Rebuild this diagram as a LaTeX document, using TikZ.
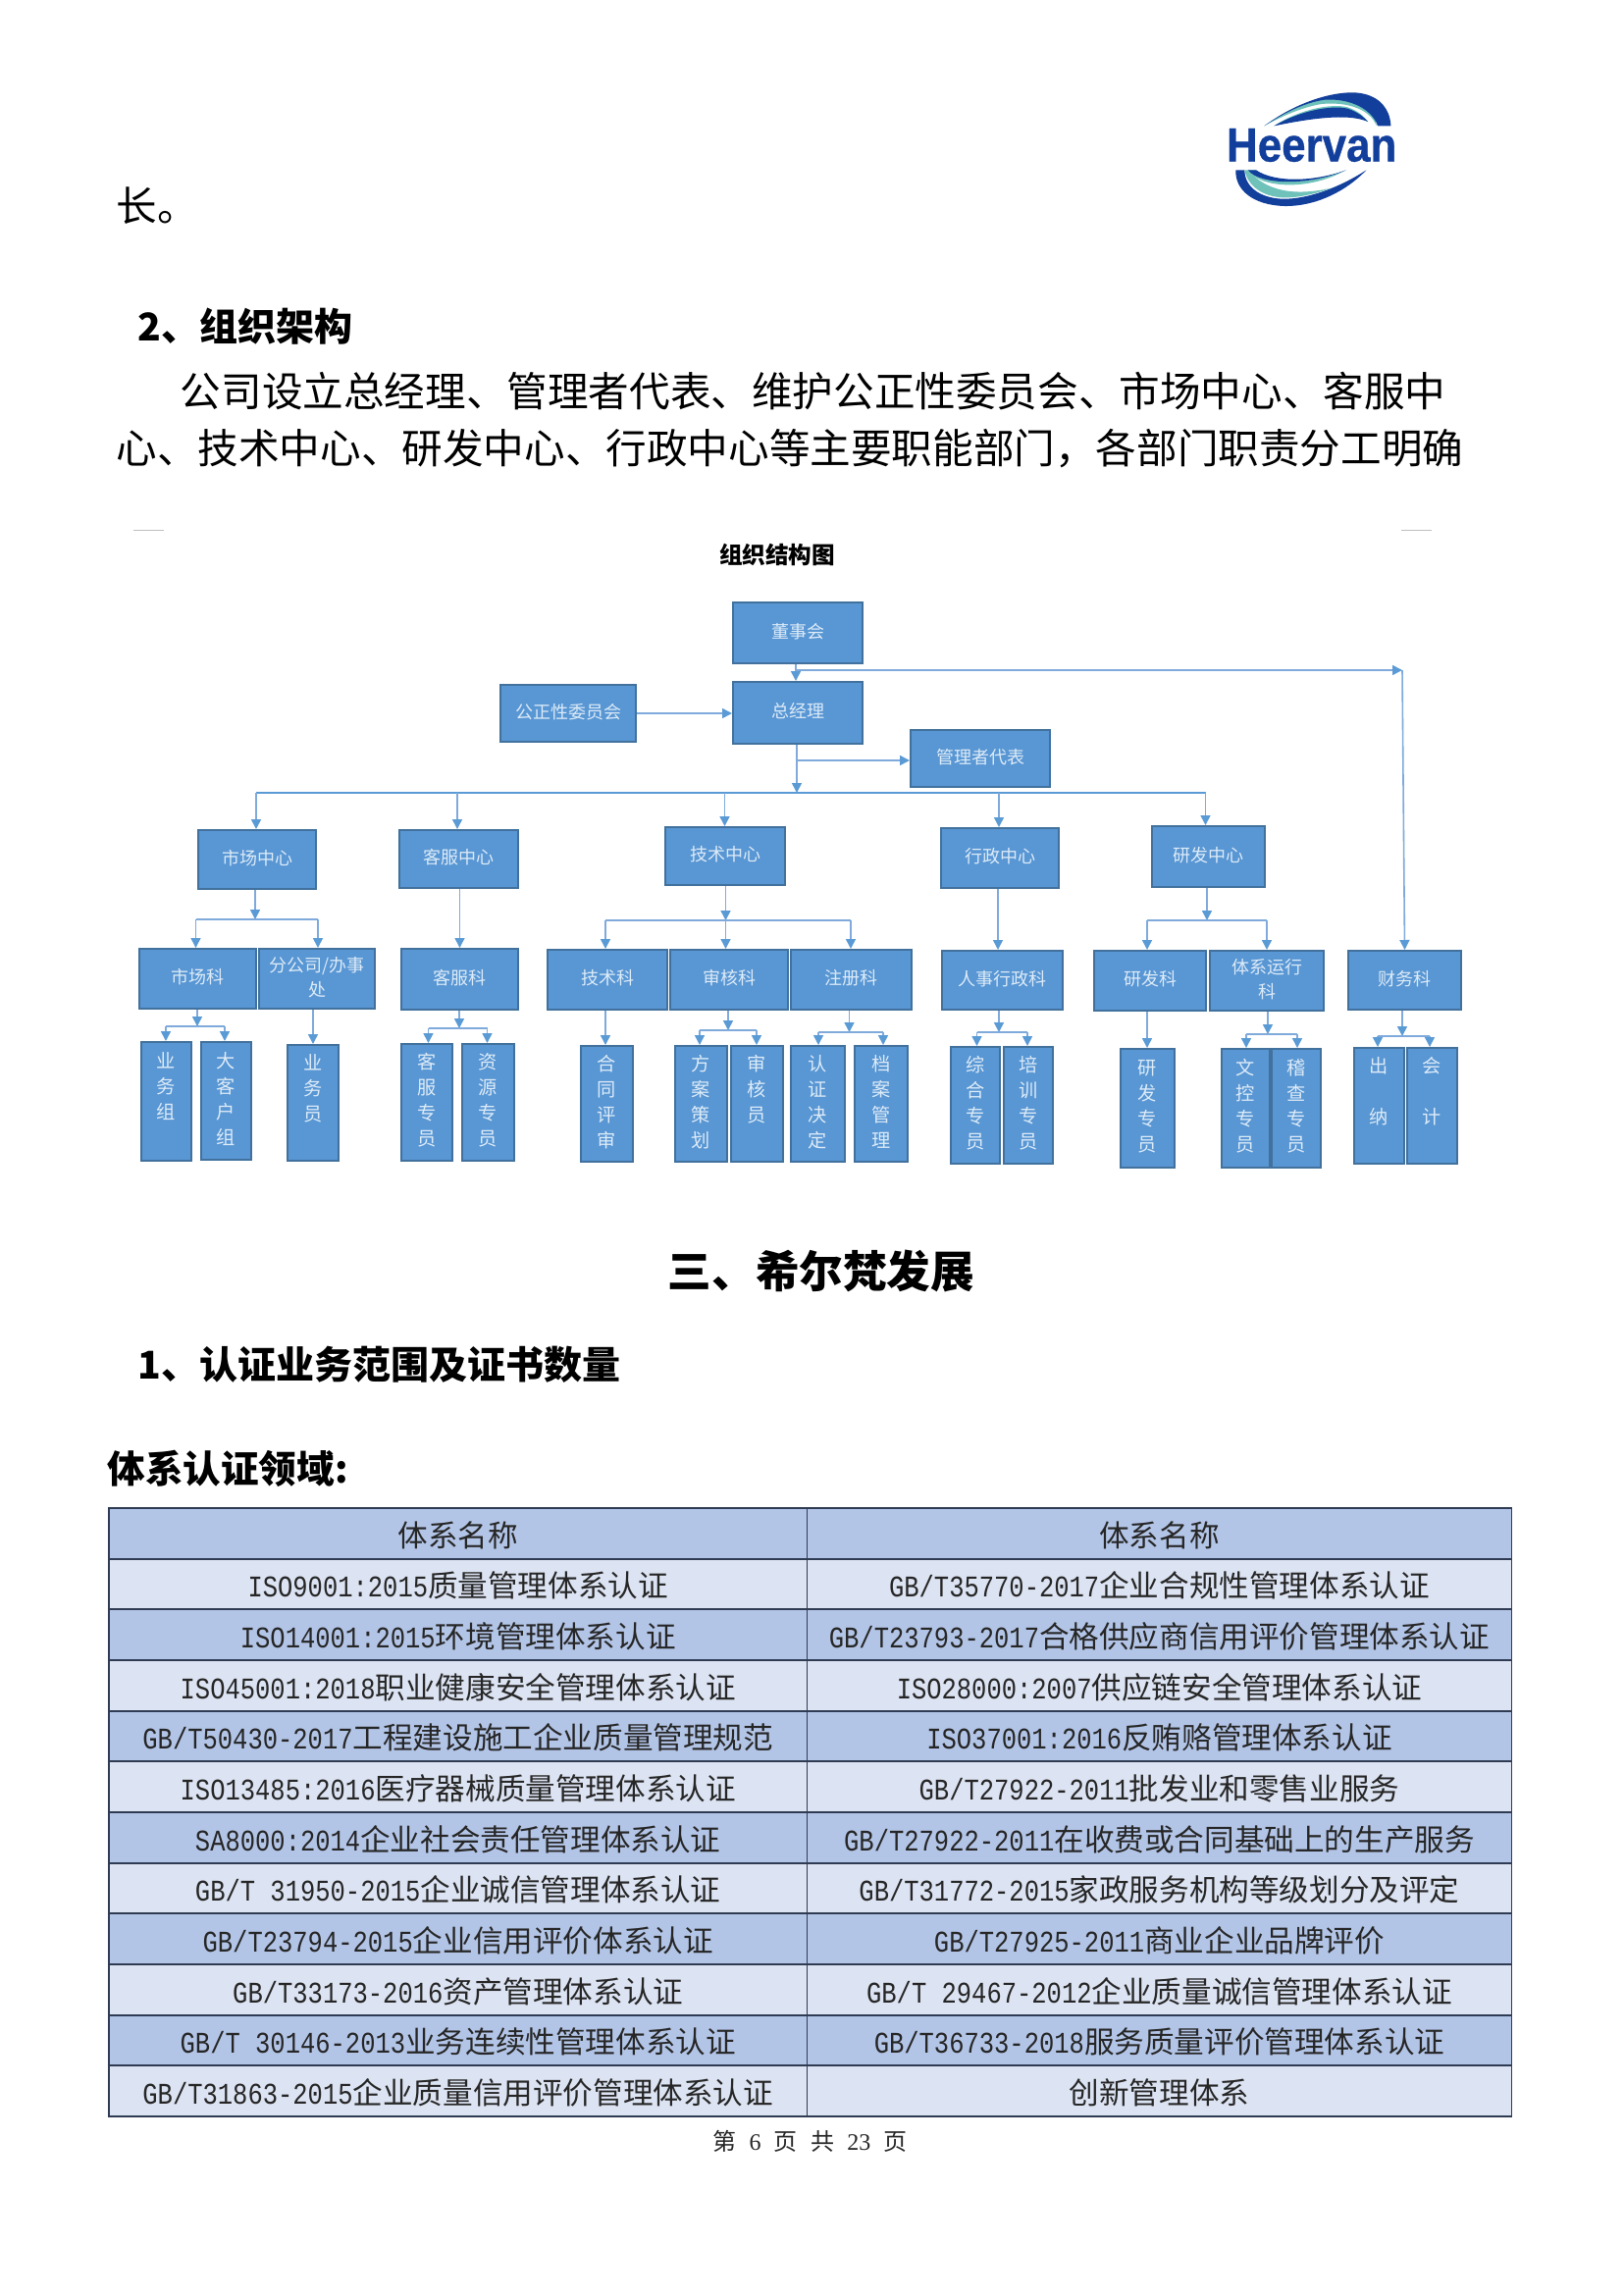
\documentclass[tikz,border=0pt]{standalone}
\usepackage{fontspec}
\usetikzlibrary{arrows.meta}
\setmainfont{Noto Sans CJK SC}
\newfontfamily\hwfont[FakeStretch=0.8333]{Liberation Mono}
\newfontfamily\logofont[FakeStretch=0.9,FakeBold=0.6]{Liberation Sans}
\newfontfamily\footfont{Liberation Serif}
\newcommand\hw[1]{{\hwfont #1}}
\definecolor{boxfill}{HTML}{5896D4}
\definecolor{boxline}{HTML}{41719C}
\definecolor{boxtext}{HTML}{DDEBF7}
\definecolor{linec}{HTML}{7FAADB}
\definecolor{tipc}{HTML}{5B9BD5}
\definecolor{rowdark}{HTML}{B3C5E7}
\definecolor{rowlight}{HTML}{DCE3F2}
\definecolor{rowline}{HTML}{2F3B52}
\definecolor{logoblue}{HTML}{123F9C}
\definecolor{logoteal}{HTML}{6FC2BA}
\tikzset{
  orgbox/.style={draw=boxline,fill=boxfill,line width=1pt,text=boxtext,inner sep=0pt,align=center,
    font=\fontsize{9}{12.5}\selectfont},
  leafbox/.style={orgbox,font=\fontsize{9.6}{13}\selectfont},
  conn/.style={draw=linec,line width=.8pt,-{Triangle[length=5pt,width=5pt,color=tipc]}},
  plainline/.style={draw=linec,line width=.8pt},
  busline/.style={draw=tipc,line width=.7pt},
  cell/.style={draw=rowline,line width=.9pt,inner sep=0pt,text=black!85,font=\fontsize{15.3}{18}\selectfont},
  para/.style={anchor=west,inner sep=0pt,font=\fontsize{20.8}{24}\selectfont},
  headb/.style={inner sep=0pt,font=\fontsize{19.5}{24}\selectfont\bfseries},
}
\newcommand\bx[7]{\node[#7,minimum width={(#4-#2)*0.5pt},minimum height={(#5-#3)*0.5pt}] (#1) at ({(#2+#4)/2},{(#3+#5)/2}) {\raisebox{.5pt}{\begin{tabular}{@{}c@{}}#6\end{tabular}}};}
\newcommand\forkto[8]{%
  \coordinate (#1m) at (#3,#4); \coordinate (#1l) at (#5,#4); \coordinate (#1r) at (#6,#4);
  \draw[conn] (#1m |- #2.south) -- (#1m);
  \draw[plainline] (#1l) -- (#1r);
  \draw[conn] (#1l) -- (#1l |- #7.north);
  \draw[conn] (#1r) -- (#1r |- #8.north);}
\newcommand\trow[3]{%
  \pgfmathsetmacro\ty{1537+51.67*#1+25.83}%
  \ifodd#1\def\rc{rowlight}\else\def\rc{rowdark}\fi
  \node[cell,fill=\rc,minimum width=355.75pt,minimum height=25.83pt] (l#1) at (466.75,\ty) {\smash{\raisebox{-6.6pt}{#2}}};
  \node[cell,fill=\rc,minimum width=359pt,minimum height=25.83pt] (r#1) at (1181.5,\ty) {\smash{\raisebox{-6.6pt}{#3}}};}
\begin{document}
\begin{tikzpicture}[x=0.5pt,y=-0.5pt]
\useasboundingbox[fill=white] (0,0) rectangle (1654,2339);
% logo
\begin{scope}[shift={(1200,70)},x=0.1667pt,y=-0.1667pt]
\fill[logoteal] (265,175) .. controls (380,95) and (500,70) .. (570,85) .. controls (600,110) and (605,140) .. (608,175) .. controls (590,125) and (520,100) .. (440,108) .. controls (380,118) and (320,145) .. (265,175) -- cycle;
\fill[logoblue] (265,175) .. controls (380,90) and (500,65) .. (560,75) .. controls (620,85) and (650,125) .. (652,175) -- (612,175) .. controls (595,125) and (530,90) .. (450,95) .. controls (380,105) and (320,140) .. (265,175) -- cycle;
\fill[logoteal] (295,175) .. controls (370,125) and (470,105) .. (520,118) .. controls (550,128) and (570,145) .. (582,162) .. controls (530,135) and (440,135) .. (295,175) -- cycle;
\fill[logoblue] (295,175) .. controls (370,130) and (470,110) .. (520,122) .. controls (550,132) and (570,148) .. (582,162) .. controls (530,140) and (440,145) .. (295,175) -- cycle;
\fill[logoblue] (178,310) .. controls (175,370) and (230,418) .. (330,420) .. controls (430,420) and (520,370) .. (577,310) .. controls (500,360) and (400,400) .. (320,398) .. controls (250,395) and (205,360) .. (205,310) -- cycle;
\fill[logoteal] (205,310) .. controls (215,360) and (260,390) .. (320,394) .. controls (370,396) and (430,380) .. (470,365) .. controls (400,380) and (290,395) .. (215,310) -- cycle;
\fill[logoteal] (215,310) .. controls (250,365) and (400,375) .. (515,310) .. controls (420,350) and (300,360) .. (240,310) -- cycle;
\fill[logoblue] (215,310) .. controls (250,355) and (400,360) .. (515,310) .. controls (420,345) and (300,350) .. (240,310) -- cycle;
\node[inner sep=0pt,text=logoblue,font=\logofont\fontsize{24.4}{26}\selectfont\bfseries] (logo) at (410,234) {Heervan};
\end{scope}
% page text
\node[para] (t1) at (118,210) {长。};
\node[headb,anchor=west] (h2) at (140,333) {2、组织架构};
\node[para] (p1) at (183.5,399) {公司设立总经理、管理者代表、维护公正性委员会、市场中心、客服中};
\node[para] (p2) at (118,457) {心、技术中心、研发中心、行政中心等主要职能部门，各部门职责分工明确};
\coordinate (ga) at (136,540); \coordinate (gb) at (167,540);
\coordinate (gc) at (1428,540); \coordinate (gd) at (1459,540);
\draw[black!25,line width=.5pt] (ga) -- (gb) (gc) -- (gd);
\node[inner sep=0pt,font=\fontsize{11.8}{14}\selectfont\bfseries] (ct) at (792,565) {组织结构图};
\begin{scope}[shift={(1,0)}]
% top boxes
\bx{dsh}{746}{614}{878}{676}{董事会}{orgbox}
\bx{zjl}{746}{695}{878}{758}{总经理}{orgbox}
\bx{gzx}{509}{698}{647}{756}{公正性委员会}{orgbox}
\bx{glz}{927}{744}{1069}{802}{管理者代表}{orgbox}
% centres
\bx{csc}{201}{846}{321}{906}{市场中心}{orgbox}
\bx{ckf}{406}{846}{527}{905}{客服中心}{orgbox}
\bx{cjs}{677}{843}{799}{902}{技术中心}{orgbox}
\bx{cxz}{958}{844}{1078}{905}{行政中心}{orgbox}
\bx{cyf}{1173}{842}{1288}{904}{研发中心}{orgbox}
% sections
\bx{ksc}{141}{967}{260}{1028}{市场科}{orgbox}
\bx{kfg}{263}{967}{381}{1028}{分公司/办事\\处}{orgbox}
\bx{kkf}{408}{967}{527}{1029}{客服科}{orgbox}
\bx{kjs}{557}{968}{679}{1029}{技术科}{orgbox}
\bx{ksh}{682}{968}{802}{1029}{审核科}{orgbox}
\bx{kzc}{805}{968}{928}{1029}{注册科}{orgbox}
\bx{krs}{959}{969}{1082}{1029}{人事行政科}{orgbox}
\bx{kyf}{1114}{969}{1228}{1030}{研发科}{orgbox}
\bx{ktx}{1232}{969}{1348}{1030}{体系运行\\科}{orgbox}
\bx{kcw}{1373}{969}{1488}{1029}{财务科}{orgbox}
% leaves
\bx{a1}{143}{1062}{194}{1183}{业\\务\\组\\\mbox{}}{leafbox}
\bx{a2}{204}{1062}{255}{1182}{大\\客\\户\\组}{leafbox}
\bx{a3}{292}{1065}{344}{1183}{业\\务\\员\\\mbox{}}{leafbox}
\bx{a4}{408}{1064}{460}{1183}{客\\服\\专\\员}{leafbox}
\bx{a5}{470}{1064}{523}{1183}{资\\源\\专\\员}{leafbox}
\bx{a6}{591}{1066}{644}{1184}{合\\同\\评\\审}{leafbox}
\bx{a7}{687}{1066}{740}{1184}{方\\案\\策\\划}{leafbox}
\bx{a8}{744}{1066}{797}{1184}{审\\核\\员\\\mbox{}}{leafbox}
\bx{a9}{805}{1066}{860}{1184}{认\\证\\决\\定}{leafbox}
\bx{a10}{870}{1066}{924}{1184}{档\\案\\管\\理}{leafbox}
\bx{a11}{968}{1067}{1018}{1186}{综\\合\\专\\员}{leafbox}
\bx{a12}{1022}{1067}{1072}{1186}{培\\训\\专\\员}{leafbox}
\bx{a13}{1141}{1069}{1196}{1190}{研\\发\\专\\员}{leafbox}
\bx{a14}{1244}{1069}{1293}{1190}{文\\控\\专\\员}{leafbox}
\bx{a15}{1295}{1069}{1345}{1190}{稽\\查\\专\\员}{leafbox}
\bx{a16}{1379}{1068}{1430}{1186}{出\\\mbox{}\\纳\\\mbox{}}{leafbox}
\bx{a17}{1433}{1068}{1484}{1186}{会\\\mbox{}\\计\\\mbox{}}{leafbox}
% connectors top
\coordinate (jt) at (810,683); \coordinate (jr) at (1428,683);
\draw[conn] (jt |- dsh.south) -- (jt |- zjl.north);
\draw[conn] (jt) -- (jr);
\draw[conn] (jr) -- (kcw.north);
\coordinate (jg) at (648,727);
\draw[conn] (jg) -- (jg -| zjl.west);
\coordinate (bz) at (811,808); \coordinate (jm) at (811,775);
\draw[conn] (bz |- zjl.south) -- (bz);
\draw[conn] (jm) -- (jm -| glz.west);
\coordinate (b1) at (260,808); \coordinate (b2) at (465,808); \coordinate (b3) at (737.5,808);
\coordinate (b4) at (1017,808); \coordinate (b5) at (1227.5,808);
\draw[busline] (b1) -- (b5);
\draw[conn] (b1) -- (b1 |- csc.north);
\draw[conn] (b2) -- (b2 |- ckf.north);
\draw[conn] (b3) -- (b3 |- cjs.north);
\draw[conn] (b4) -- (b4 |- cxz.north);
\draw[conn] (b5) -- (b5 |- cyf.north);
% centres to sections
\forkto{fa}{csc}{259}{937}{198.5}{323}{ksc}{kfg}
\coordinate (sk) at (467.5,930); \draw[conn] (sk |- ckf.south) -- (sk |- kkf.north);
\forkto{fb}{cjs}{738.5}{938}{616}{866}{kjs}{kzc}
\draw[conn] (fbm) -- (fbm |- ksh.north);
\coordinate (sx) at (1016,930); \draw[conn] (sx |- cxz.south) -- (sx |- krs.north);
\forkto{fc}{cyf}{1229}{938}{1168}{1290}{kyf}{ktx}
% sections to leaves
\forkto{ga}{ksc}{200}{1046}{168}{228}{a1}{a2}
\coordinate (lfg) at (318,1040); \draw[conn] (lfg |- kfg.south) -- (lfg |- a3.north);
\forkto{gb}{kkf}{467}{1048}{435.5}{495.5}{a4}{a5}
\coordinate (ljs) at (616,1040); \draw[conn] (ljs |- kjs.south) -- (ljs |- a6.north);
\forkto{gc}{ksh}{741}{1050}{712}{770}{a7}{a8}
\forkto{gd}{kzc}{864.5}{1052}{833}{899}{a9}{a10}
\forkto{ge}{krs}{1017}{1052}{994.5}{1046}{a11}{a12}
\coordinate (lyf) at (1168,1040); \draw[conn] (lyf |- kyf.south) -- (lyf |- a13.north);
\forkto{gf}{ktx}{1291}{1054}{1269}{1321}{a14}{a15}
\forkto{gg}{kcw}{1428}{1056}{1403}{1456}{a16}{a17}
\end{scope}
% section heads
\node[inner sep=0pt,font=\fontsize{22.3}{26}\selectfont\bfseries] (h3) at (837,1296) {三、希尔梵发展};
\node[headb,anchor=west] (h4) at (140,1391) {1、认证业务范围及证书数量};
\node[inner sep=0pt,anchor=west,font=\fontsize{19.3}{24}\selectfont\bfseries] (h5) at (109,1497) {体系认证领域:};
% table
\trow{0}{体系名称}{体系名称}
\trow{1}{\hw{ISO9001:2015}质量管理体系认证}{\hw{GB/T35770-2017}企业合规性管理体系认证}
\trow{2}{\hw{ISO14001:2015}环境管理体系认证}{\hw{GB/T23793-2017}合格供应商信用评价管理体系认证}
\trow{3}{\hw{ISO45001:2018}职业健康安全管理体系认证}{\hw{ISO28000:2007}供应链安全管理体系认证}
\trow{4}{\hw{GB/T50430-2017}工程建设施工企业质量管理规范}{\hw{ISO37001:2016}反贿赂管理体系认证}
\trow{5}{\hw{ISO13485:2016}医疗器械质量管理体系认证}{\hw{GB/T27922-2011}批发业和零售业服务}
\trow{6}{\hw{SA8000:2014}企业社会责任管理体系认证}{\hw{GB/T27922-2011}在收费或合同基础上的生产服务}
\trow{7}{\hw{GB/T 31950-2015}企业诚信管理体系认证}{\hw{GB/T31772-2015}家政服务机构等级划分及评定}
\trow{8}{\hw{GB/T23794-2015}企业信用评价体系认证}{\hw{GB/T27925-2011}商业企业品牌评价}
\trow{9}{\hw{GB/T33173-2016}资产管理体系认证}{\hw{GB/T 29467-2012}企业质量诚信管理体系认证}
\trow{10}{\hw{GB/T 30146-2013}业务连续性管理体系认证}{\hw{GB/T36733-2018}服务质量评价管理体系认证}
\trow{11}{\hw{GB/T31863-2015}企业质量信用评价管理体系认证}{创新管理体系}
% footer
\node[inner sep=0pt,font=\fontsize{12}{14}\selectfont,text=black!85] (ft) at (825.5,2182) {第\hspace{6.6pt}{\footfont 6}\hspace{6.6pt}页\hspace{6.6pt}共\hspace{6.6pt}{\footfont 23}\hspace{6.6pt}页};
\end{tikzpicture}
\end{document}
